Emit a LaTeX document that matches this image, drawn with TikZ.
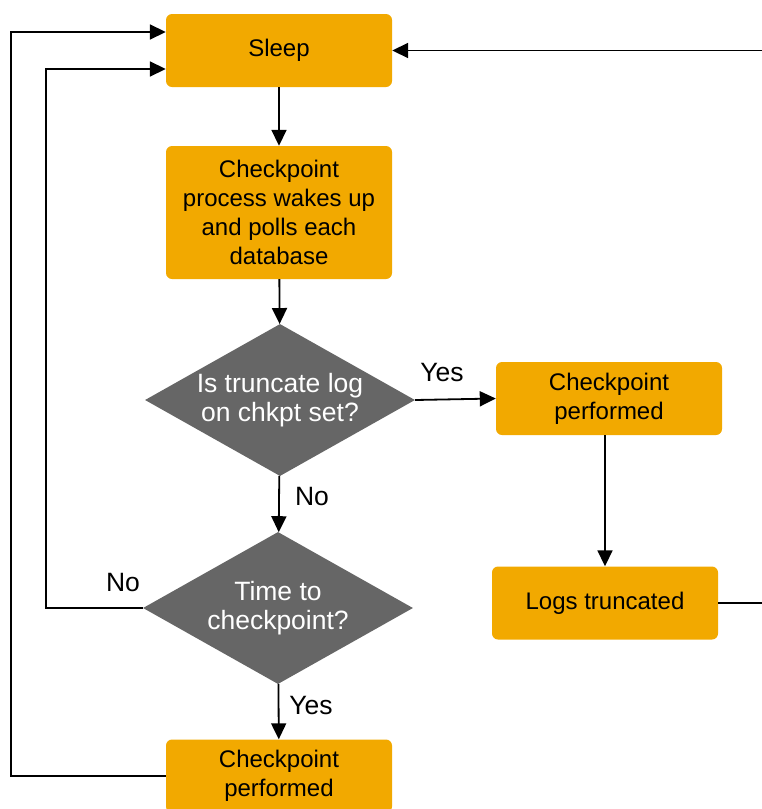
\documentclass[tikz,border=0pt]{standalone}
\usepackage{fontspec}
\setmainfont{Liberation Sans}
\usetikzlibrary{shapes.geometric,arrows.meta}
\definecolor{boxorange}{HTML}{F2A900}
\definecolor{diagray}{HTML}{666666}
\tikzset{
  txt/.style={font=\fontsize{24}{29}\selectfont},
  bigtxt/.style={font=\fontsize{26.5}{29.5}\selectfont},
  procbox/.style={txt, rectangle, rounded corners=6pt, fill=boxorange, minimum width=226pt, minimum height=73pt, align=center, inner sep=0pt},
  decision/.style={bigtxt, diamond, fill=diagray, minimum width=270pt, minimum height=152pt, inner sep=0pt, shape aspect=1.776, align=center, text=white},
  conn/.style={line width=1.8pt, -{Triangle[length=16pt,width=15pt]}},
  plainline/.style={line width=1.8pt},
  lbl/.style={bigtxt, inner sep=0pt}
}
\begin{document}
\begin{tikzpicture}[x=1pt,y=-1pt]
\useasboundingbox (0,0) rectangle (762,809);
\clip (0,0) rectangle (762,809);
\node[procbox] (sleep) at (279,50.5) {Sleep};
\node[procbox, minimum height=133pt] (proc) at (279,212.5) {Checkpoint\\process wakes up\\and polls each\\database};
\node[decision] (d1) at (280,400) {Is truncate log\\on chkpt set?};
\node[procbox] (rp) at (609,398.5) {Checkpoint\\performed};
\node[procbox] (logs) at (605,603) {Logs truncated};
\node[decision] (d2) at (278,608) {Time to\\checkpoint?};
\node[procbox] (bot) at (279,776) {Checkpoint\\performed};
\coordinate (farright) at (775,603);
\coordinate (leftA) at (11,776);
\coordinate (leftB) at (46,608);
\draw[conn] (sleep) -- (proc);
\draw[conn] (proc) -- (d1);
\draw[conn] (d1.east) -- (rp.west);
\draw[conn] (d1) -- (d2);
\draw[conn] (d2) -- (bot);
\draw[conn] (logs.north |- rp.south) -- (logs.north);
\draw[conn] (logs.east) -- (farright) |- (sleep.east);
\draw[conn] (d2.west) -- (leftB) |- ([yshift=-18.5pt]sleep.west);
\draw[conn] (bot.west) -- (leftA) |- ([yshift=18.5pt]sleep.west);
\node[lbl] (yes1) at (442,373) {Yes};
\node[lbl] (no1) at (312,497) {No};
\node[lbl] (no2) at (123,583) {No};
\node[lbl] (yes2) at (311,706) {Yes};
\end{tikzpicture}
\end{document}
